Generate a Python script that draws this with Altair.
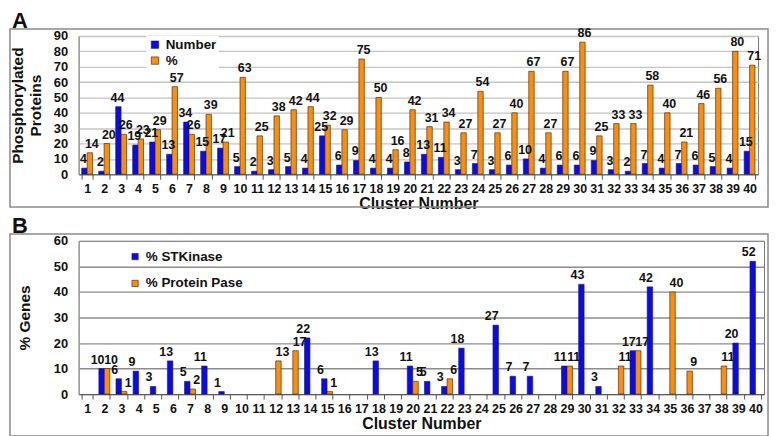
import altair as alt
import pandas as pd

clusters = [str(i) for i in range(1, 41)]

# Panel A
seriesA = ["Number", "%"]
number = [4, 2, 44, 19, 21, 13, 34, 15, 17, 5, 2, 3, 5, 4, 25, 6, 9, 4, 4, 8,
          13, 11, 3, 7, 3, 6, 10, 4, 6, 6, 9, 3, 2, 7, 4, 7, 6, 5, 4, 15]
percent = [14, 20, 26, 23, 29, 57, 26, 39, 21, 63, 25, 38, 42, 44, 32, 29, 75, 50, 16, 42,
           31, 34, 27, 54, 27, 40, 67, 27, 67, 86, 25, 33, 33, 58, 40, 21, 46, 56, 80, 71]

# Panel B
seriesB = ["% STKinase", "% Protein Pase"]
stk = [None, 10, 6, 9, 3, 13, 5, 11, 1, None, None, None, None, 22, 6, None, None, 13, None, 11,
       5, 3, 18, None, 27, 7, 7, None, 11, 43, 3, None, 17, 42, None, None, None, None, 20, 52]
pp = [None, 10, 1, None, None, None, 2, None, None, None, None, 13, 17, None, 1, None, None, None, None, 5,
      None, 6, None, None, None, None, None, None, 11, None, None, 11, 17, None, 40, 9, None, 11, None, None]

BLUE = "#0a0af0"
ORANGE = "#ff8c0a"
FONT = "Liberation Sans"

dfA = pd.DataFrame({
    "cluster": clusters * 2,
    "series": [seriesA[0]] * 40 + [seriesA[1]] * 40,
    "value": number + percent,
})
rowsB = []
for c, a, b in zip(clusters, stk, pp):
    if a is not None:
        rowsB.append({"cluster": c, "series": seriesB[0], "value": a})
    if b is not None:
        rowsB.append({"cluster": c, "series": seriesB[1], "value": b})
dfB = pd.DataFrame(rowsB)
one = pd.DataFrame({"k": [0]})


def panel(df, series, ymax, ytitle, width, height, grid_color, legend, title_pad, letter, box_bottom, dxs):
    xaxis = alt.Axis(labelAngle=0, labelFontSize=12.5, labelFontWeight="bold", labelColor="#111",
                     tickBand="extent", tickSize=5, tickColor="#555", domainColor="#555",
                     labelPadding=3, title="Cluster Number", titleFontSize=16, titleFontWeight="bold",
                     titleColor="#111", titlePadding=1, grid=False)
    x = alt.X("cluster:N", sort=clusters,
              scale=alt.Scale(domain=clusters, paddingInner=0.36, paddingOuter=0.18), axis=xaxis)
    xo = alt.XOffset("series:N", sort=series,
                     scale=alt.Scale(domain=series, paddingInner=0, paddingOuter=0))
    y = alt.Y("value:Q", scale=alt.Scale(domain=[0, ymax], nice=False),
              axis=alt.Axis(values=list(range(0, ymax + 1, 10)), labelFontSize=13, labelFontWeight="bold",
                            labelColor="#111", labelPadding=11, ticks=False, domainColor="#999",
                            gridColor=grid_color, gridWidth=1.3, title=ytitle, titleFontSize=15.5,
                            titleFontWeight="bold", titleColor="#111", titlePadding=title_pad,
                            titleLineHeight=18))
    base = alt.Chart(df).encode(x=x, xOffset=xo, y=y)
    bars = base.mark_bar(stroke="#222", strokeWidth=0.6).encode(
        color=alt.Color("series:N", sort=series,
                        scale=alt.Scale(domain=series, range=[BLUE, ORANGE]), legend=legend))
    label_layers = []
    for s, d in zip(series, dxs):
        label_layers.append(
            base.transform_filter(alt.datum.series == s).mark_text(
                fontSize=12.5, fontWeight="bold", baseline="bottom", dy=-2, dx=d, color="#111"
            ).encode(text="value:Q"))
    box = alt.Chart(one).mark_rect(fillOpacity=0, stroke="#8a8a8a", strokeWidth=1.5).encode(
        x=alt.value(-69), x2=alt.value(693), y=alt.value(-7), y2=alt.value(box_bottom))
    let = alt.Chart(one).mark_text(text=letter, fontSize=22, fontWeight="bold", align="left",
                                   baseline="top", color="#111").encode(
        x=alt.value(-67), y=alt.value(-25))
    return alt.layer(box, let, bars, *label_layers).properties(width=width, height=height)


legA = alt.Legend(orient="none", legendX=68, legendY=0, title=None, symbolType="square",
                  symbolSize=55, symbolStrokeColor="#222", symbolStrokeWidth=0.6,
                  labelFontSize=13.5, labelFontWeight="bold", labelColor="#111",
                  rowPadding=1, fillColor="white", padding=2, symbolOffset=0)
legB = alt.Legend(orient="none", legendX=48, legendY=7, title=None, symbolType="square",
                  symbolSize=40, symbolStrokeColor="#222", symbolStrokeWidth=0.6,
                  labelFontSize=13.5, labelFontWeight="bold", labelColor="#111",
                  rowPadding=12, padding=2)

chartA = panel(dfA, seriesA, 90, ["Phosphorylated", "Proteins"], 683, 139, "#c4c4c4", legA, 10, "A", 172,
               [-1, 2])
chartB = panel(dfB, seriesB, 60, "% Genes", 689, 154, "#8c8c8c", legB, 21, "B", 196, [-4, 4])

chart = alt.vconcat(chartA, chartB, spacing=2).resolve_scale(
    color="independent", x="independent", y="independent", xOffset="independent"
).properties(padding=0, background="white").configure(font=FONT).configure_view(
    stroke="#777", strokeWidth=1)

chart.save("out.html", embed_options={"renderer": "svg", "actions": False})
